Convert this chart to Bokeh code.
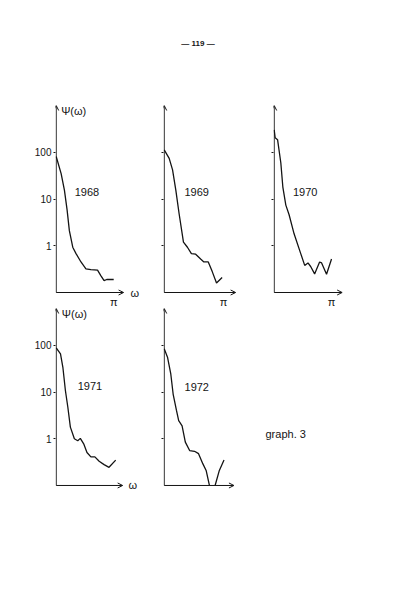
from bokeh.plotting import figure
from bokeh.layouts import column, row
from bokeh.models import (Range1d, FixedTicker, PrintfTickFormatter, Label,
                          Arrow, OpenHead)
from bokeh.embed import file_html
from bokeh.resources import INLINE

NAN = float("nan")

# ---- data: omega in units of pi, spectral density psi(omega) ----
omega_1968 = [0.0, 0.086, 0.143, 0.19, 0.229, 0.288, 0.345, 0.431, 0.517, 0.603, 0.719, 0.776, 0.833, 0.879, 0.919, 1.0]
psi_1968 = [81, 35, 15.5, 5.8, 2.1, 0.93, 0.68, 0.45, 0.32, 0.31, 0.30, 0.23, 0.18, 0.19, 0.19, 0.19]

omega_1969 = [0.0, 0.084, 0.141, 0.196, 0.251, 0.325, 0.392, 0.459, 0.531, 0.615, 0.670, 0.744, 0.811, 0.883, 0.978]
psi_1969 = [112, 74, 42, 15.5, 4.9, 1.2, 0.93, 0.68, 0.66, 0.52, 0.45, 0.45, 0.28, 0.16, 0.21]

omega_1970 = [0.0, 0.017, 0.059, 0.116, 0.151, 0.203, 0.26, 0.347, 0.463, 0.532, 0.589, 0.636, 0.705, 0.792, 0.827, 0.913, 1.0]
psi_1970 = [302, 204, 186, 59, 18, 7.4, 4.6, 1.8, 0.68, 0.38, 0.43, 0.36, 0.25, 0.45, 0.43, 0.245, 0.52]

omega_1971 = [0.0, 0.072, 0.112, 0.155, 0.195, 0.238, 0.305, 0.362, 0.405, 0.462, 0.517, 0.583, 0.65, 0.722, 0.805, 0.888, 1.0]
psi_1971 = [89, 66, 34, 10.7, 4.8, 1.78, 1.0, 0.91, 1.02, 0.78, 0.51, 0.41, 0.41, 0.33, 0.28, 0.245, 0.35]

# the 1972 estimate drops to zero (off the log scale) between the two gaps
omega_1972 = [0.0, 0.055, 0.109, 0.149, 0.204, 0.242, 0.299, 0.353, 0.425, 0.507, 0.574, 0.647, 0.701, 0.756, 0.80, 0.851, 0.922, 1.0]
psi_1972 = [85, 56, 25, 9.1, 4.1, 2.45, 1.9, 0.85, 0.56, 0.54, 0.48, 0.29, 0.21, 0.1, NAN, 0.1, 0.21, 0.35]

years = ["1968", "1969", "1970", "1971", "1972"]
y_ticks = [1, 10, 100]
y_label = "Ψ(ω)"
x_label = "ω"
pi_label = "π"
page_number = "— 119 —"
graph_label = "graph. 3"

FONT = "Liberation Sans"
INK = "#141414"
X0 = -0.012  # a hair left of omega = 0 so the vertical axis line is not clipped


def panel(xs, ys, year, left, frame_w, height, xend, xarrow, ylo, ymax,
          show_ylabels, show_pi, year_pos, ylab_pos=None, xlab_pos=None):
    p = figure(width=left + frame_w, height=height, output_backend="svg", toolbar_location=None,
               y_axis_type="log", x_range=Range1d(X0, xend), y_range=Range1d(ylo, ymax),
               min_border_left=left, min_border_right=0,
               min_border_top=0, min_border_bottom=0)
    p.outline_line_color = None
    p.grid.visible = False
    p.xaxis.visible = False
    p.background_fill_color = "white"
    p.border_fill_color = "white"

    ya = p.yaxis[0]
    ya.ticker = FixedTicker(ticks=y_ticks)
    ya.formatter = PrintfTickFormatter(format="%d")
    ya.minor_tick_line_color = None
    ya.major_tick_out = 2
    ya.major_tick_in = 0
    ya.axis_line_color = None
    ya.major_tick_line_color = INK
    ya.major_label_text_font = FONT
    ya.major_label_text_font_size = "10px"
    ya.major_label_text_color = INK if show_ylabels else None
    ya.major_label_standoff = 2

    p.line(xs, ys, line_color=INK, line_width=1.3)

    head = dict(size=5, line_width=1, line_color=INK)
    # vertical axis with arrow
    p.add_layout(Arrow(end=OpenHead(**head), x_start=0, y_start=0.1, x_end=0, y_end=ymax,
                       line_color=INK, line_width=1))
    # omega axis with arrow
    p.add_layout(Arrow(end=OpenHead(**head), x_start=0, y_start=0.1, x_end=xarrow, y_end=0.1,
                       line_color=INK, line_width=1))

    txt = dict(text_font=FONT, text_font_size="11px", text_color=INK, text_baseline="middle")
    p.add_layout(Label(x=year_pos[0], y=year_pos[1], text=year, text_align="center", **txt))
    if show_pi:
        p.add_layout(Label(x=1.0, y=0.064, text=pi_label, text_align="center", **txt))
    if ylab_pos is not None:
        p.add_layout(Label(x=ylab_pos[0], y=ylab_pos[1], text=y_label, text_align="left", **txt))
    if xlab_pos is not None:
        p.add_layout(Label(x=xlab_pos[0], y=xlab_pos[1], text=x_label, text_align="left", **txt))
    return p


def blank(width, height):
    b = figure(width=width, height=height, output_backend="svg", toolbar_location=None,
               x_range=Range1d(0, width), y_range=Range1d(height, 0),
               min_border=0, min_border_left=0, min_border_right=0,
               min_border_top=0, min_border_bottom=0)
    b.axis.visible = False
    b.grid.visible = False
    b.outline_line_color = None
    return b


# header (page number) and spacer above the first row
head = blank(387, 105)
head.add_layout(Label(x=197.5, y=43, text=page_number, text_font=FONT, text_font_size="8px",
                      text_font_style="bold", text_color=INK, text_align="center",
                      text_baseline="middle"))

R1H = 203   # frame 105 -> 308, 0.1 at 292, 1000 at 105
R1LO = 0.0455
p1 = panel(omega_1968, psi_1968, years[0], 55, 85, R1H, 1.466, 1.172, R1LO, 1000, True, True,
           (0.534, 13.8), ylab_pos=(0.086, 760), xlab_pos=(1.293, 0.1))
p2 = panel(omega_1969, psi_1969, years[1], 23, 87, R1H, 1.457, 1.206, R1LO, 1000, False, True,
           (0.548, 13.8))
p3 = panel(omega_1970, psi_1970, years[2], 23, 114, R1H, 1.976, 1.185, R1LO, 1000, False, True,
           (0.54, 13.8))

R2H = 217   # frame 308 -> 525, 0.1 at 485
R2LO = 0.0139
p4 = panel(omega_1971, psi_1971, years[3], 55, 85, R2H, 1.417, 1.117, R2LO, 617, True, False,
           (0.567, 13.2), ylab_pos=(0.095, 480), xlab_pos=(1.217, 0.1))
p5 = panel(omega_1972, psi_1972, years[4], 23, 87, R2H, 1.443, 1.166, R2LO, 617, False, False,
           (0.544, 12.6))
g = blank(137, R2H)
g.add_layout(Label(x=15, y=125, text=graph_label, text_font=FONT, text_font_size="11px",
                   text_color=INK, text_align="left", text_baseline="middle"))

layout = column(head, row(p1, p2, p3), row(p4, p5, g))
open("out.html", "w").write(file_html(layout, INLINE))
